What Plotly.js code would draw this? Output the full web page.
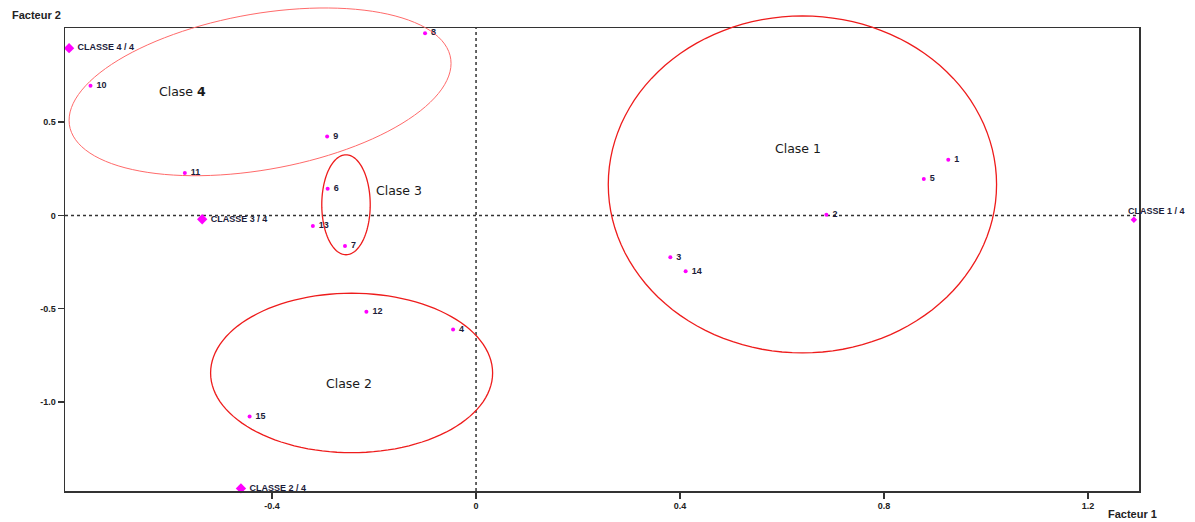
<!DOCTYPE html>
<html>
<head>
<meta charset="utf-8">
<script src="https://cdn.plot.ly/plotly-3.0.1.min.js"></script>
<style>html,body{margin:0;padding:0;background:#fff;}#chart{width:1195px;height:522px;}</style>
</head>
<body>
<div id="chart"></div>
<script>
// ---- data ----
const pointLabels = ['1','2','3','4','5','6','7','8','9','10','11','12','13','14','15'];
const pointX = [0.926, 0.687, 0.381, -0.045, 0.878, -0.291, -0.257, -0.100, -0.292, -0.756, -0.571, -0.215, -0.320, 0.411, -0.444];
const pointY = [0.298, 0.004, -0.225, -0.612, 0.195, 0.143, -0.164, 0.977, 0.423, 0.695, 0.227, -0.517, -0.057, -0.300, -1.078];

const classLabels = ['CLASSE 2 / 4', 'CLASSE 3 / 4', 'CLASSE 4 / 4'];
const classX = [-0.461, -0.537, -0.798];
const classY = [-1.464, -0.021, 0.897];
const class1Label = 'CLASSE 1 / 4';
const class1X = 1.290;
const class1Y = -0.023;

const groupNames = ['Clase 1', 'Clase 2', 'Clase 3', 'Clase <b>4</b>'];
const groupLabelX = [0.632, -0.249, -0.151, -0.575];
const groupLabelY = [0.357, -0.902, 0.136, 0.664];
// ellipse: center, conjugate semi-diameters u and v (data units)
const ellCX = [0.640, -0.244, -0.255, -0.4235];
const ellCY = [0.166, -0.845, 0.057, 0.6626];
const ellUX = [0.3807, 0.2765, 0.0475, 0.3745];
const ellUY = [0, 0, 0, 0.1527];
const ellVX = [0, 0, 0, 0];
const ellVY = [0.9035, 0.4275, 0.268, 0.4231];

const xTicks = [-0.4, 0, 0.4, 0.8, 1.2];
const xTickText = ['-0.4', '0', '0.4', '0.8', '1.2'];
const yTicks = [0.5, 0, -0.5, -1.0];
const yTickText = ['0.5', '0', '-0.5', '-1.0'];

const xRange = [-0.806, 1.300];
const yRange = [-1.478, 1.005];

// ---- build ----
const toPX = x => (x - xRange[0]) / (xRange[1] - xRange[0]);
const toPY = y => (y - yRange[0]) / (yRange[1] - yRange[0]);

function ellipsePath(i) {
  let d = '';
  const n = 120;
  for (let k = 0; k <= n; k++) {
    const t = 2 * Math.PI * k / n;
    const x = ellCX[i] + ellUX[i] * Math.cos(t) + ellVX[i] * Math.sin(t);
    const y = ellCY[i] + ellUY[i] * Math.cos(t) + ellVY[i] * Math.sin(t);
    d += (k === 0 ? 'M ' : ' L ') + toPX(x).toFixed(5) + ',' + toPY(y).toFixed(5);
  }
  return d + ' Z';
}

const labelFont = {family: 'Liberation Sans, Arial, sans-serif', size: 9, color: '#1c1c3a', weight: 'bold'};

const traces = [
  {
    type: 'scatter', mode: 'markers+text',
    x: pointX, y: pointY, text: pointLabels.map(s => ' ' + s),
    textposition: 'middle right',
    marker: {color: '#ff00ff', size: 4},
    textfont: labelFont,
    cliponaxis: false, hoverinfo: 'skip', showlegend: false
  },
  {
    type: 'scatter', mode: 'markers+text',
    x: classX, y: classY, text: classLabels.map(s => ' ' + s),
    textposition: 'middle right',
    marker: {color: '#ff00ff', size: 8, symbol: 'diamond'},
    textfont: labelFont,
    cliponaxis: false, hoverinfo: 'skip', showlegend: false
  },
  {
    type: 'scatter', mode: 'markers',
    x: [class1X], y: [class1Y],
    marker: {color: '#ff00ff', size: 5, symbol: 'diamond'},
    cliponaxis: false, hoverinfo: 'skip', showlegend: false
  }
];

const shapes = [
  {type: 'line', xref: 'x', yref: 'paper', x0: 0, x1: 0, y0: 0, y1: 1, line: {color: '#333', width: 1.5, dash: 'dot'}, layer: 'below'},
  {type: 'line', xref: 'paper', yref: 'y', x0: 0, x1: 1, y0: 0, y1: 0, line: {color: '#333', width: 1.5, dash: 'dot'}, layer: 'below'}
];
for (let i = 0; i < ellCX.length; i++) {
  shapes.push({
    type: 'path', xref: 'paper', yref: 'paper', path: ellipsePath(i),
    line: {color: i === 3 ? '#ff6a6a' : '#ee1c1c', width: i === 3 ? 1 : 1.3},
    fillcolor: 'rgba(0,0,0,0)'
  });
}

const annotations = [];
for (let i = 0; i < groupNames.length; i++) {
  annotations.push({
    x: groupLabelX[i], y: groupLabelY[i], xref: 'x', yref: 'y', text: groupNames[i],
    showarrow: false, xanchor: 'center', yanchor: 'middle',
    font: {family: 'DejaVu Sans, sans-serif', size: 12.5, color: '#1a1a1a'}
  });
}
annotations.push({
  x: class1X, y: class1Y, xref: 'x', yref: 'y', text: class1Label,
  showarrow: false, xanchor: 'left', yanchor: 'middle', xshift: -8, yshift: 9,
  font: labelFont
});
annotations.push({
  x: -65 / 1074, y: 1, xref: 'paper', yref: 'paper', text: 'Facteur 2',
  showarrow: false, xanchor: 'left', yanchor: 'bottom', yshift: 5, xshift: 10,
  font: {family: 'Liberation Sans, Arial, sans-serif', size: 11, color: '#222', weight: 'bold'}
});
annotations.push({
  x: 1, y: 0, xref: 'paper', yref: 'paper', text: 'Facteur 1',
  showarrow: false, xanchor: 'left', yanchor: 'top', xshift: -33, yshift: -15,
  font: {family: 'Liberation Sans, Arial, sans-serif', size: 11, color: '#222', weight: 'bold'}
});

const tickFont = {family: 'Liberation Sans, Arial, sans-serif', size: 9, color: '#222', weight: 'bold'};

const layout = {
  width: 1195, height: 522,
  margin: {l: 65, r: 56, t: 28, b: 31, pad: 0},
  paper_bgcolor: '#fff', plot_bgcolor: '#fff',
  showlegend: false,
  xaxis: {
    range: xRange, tickvals: xTicks, ticktext: xTickText,
    showgrid: false, zeroline: false, showline: true, mirror: true,
    linecolor: '#333', linewidth: 1.5, ticks: 'outside', ticklen: 6, tickcolor: '#333', tickwidth: 1.5,
    tickfont: tickFont, fixedrange: true
  },
  yaxis: {
    range: yRange, tickvals: yTicks, ticktext: yTickText,
    showgrid: false, zeroline: false, showline: true, mirror: true,
    linecolor: '#333', linewidth: 1.5, ticks: 'outside', ticklen: 6, tickcolor: '#333', tickwidth: 1.5,
    tickfont: tickFont, fixedrange: true
  },
  shapes: shapes,
  annotations: annotations
};

Plotly.newPlot('chart', traces, layout, {displayModeBar: false, staticPlot: true});
</script>
</body>
</html>
